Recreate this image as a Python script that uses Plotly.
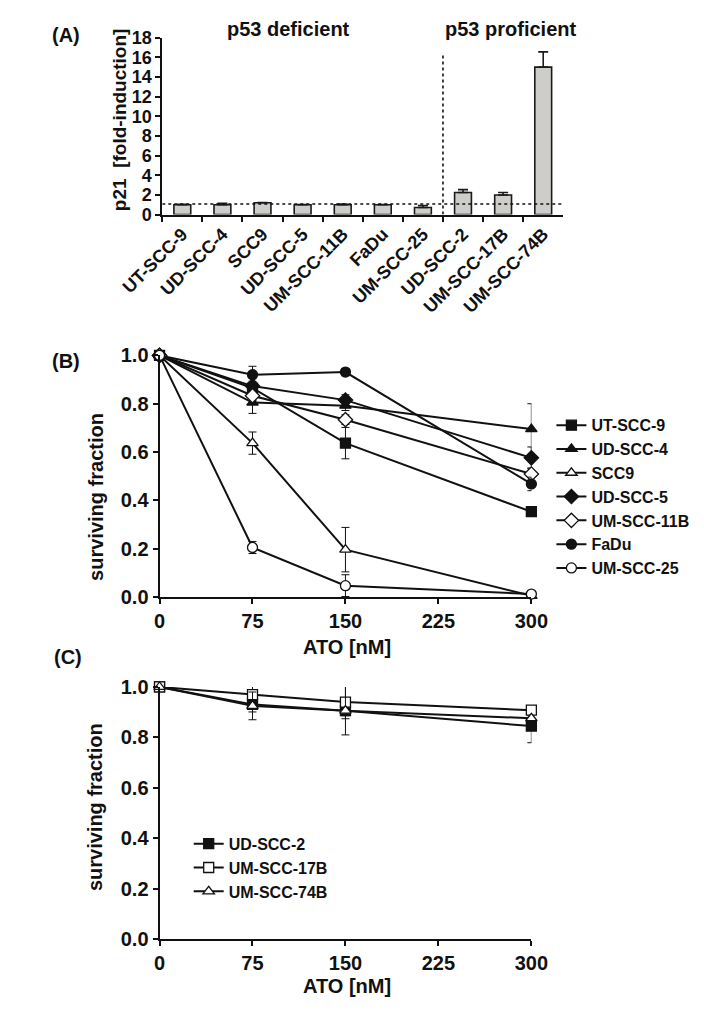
import plotly.graph_objects as go

# page is 704x1015; the browser body keeps an 8px margin, so the figure is 16px smaller
PAGE_W, PAGE_H, BODY = 704, 1015, 8
W, H = PAGE_W - 2 * BODY, PAGE_H - 2 * BODY

# ---------------- Panel A data ----------------
cell_lines_a = ["UT-SCC-9", "UD-SCC-4", "SCC9", "UD-SCC-5", "UM-SCC-11B", "FaDu",
                "UM-SCC-25", "UD-SCC-2", "UM-SCC-17B", "UM-SCC-74B"]
p21_fold = [1.0, 1.0, 1.2, 1.0, 1.0, 1.0, 0.72, 2.24, 2.0, 15.0]
p21_err = [0.05, 0.15, 0.03, 0.03, 0.06, 0.03, 0.2, 0.3, 0.24, 1.55]
baseline_fold = 1.08
group_split = 6.5

# ---------------- Panel B data ----------------
ato_dose = [0, 75, 150, 300]
b_names = ["UT-SCC-9", "UD-SCC-4", "SCC9", "UD-SCC-5", "UM-SCC-11B", "FaDu", "UM-SCC-25"]
b_ut_scc_9 = [1.0, 0.865, 0.637, 0.353]
b_ut_scc_9_err = [0.0, 0.02, 0.065, 0.015]
b_ud_scc_4 = [1.0, 0.805, 0.792, 0.695]
b_ud_scc_4_err = [0.0, 0.045, 0.02, 0.105]
b_scc9 = [1.0, 0.637, 0.196, 0.005]
b_scc9_err = [0.0, 0.046, 0.092, 0.01]
b_ud_scc_5 = [1.0, 0.873, 0.815, 0.576]
b_ud_scc_5_err = [0.0, 0.02, 0.022, 0.045]
b_um_scc_11b = [1.0, 0.833, 0.734, 0.509]
b_um_scc_11b_err = [0.0, 0.02, 0.02, 0.025]
b_fadu = [1.0, 0.92, 0.931, 0.468]
b_fadu_err = [0.0, 0.035, 0.015, 0.028]
b_um_scc_25 = [1.0, 0.205, 0.047, 0.012]
b_um_scc_25_err = [0.0, 0.025, 0.045, 0.005]

# ---------------- Panel C data ----------------
c_names = ["UD-SCC-2", "UM-SCC-17B", "UM-SCC-74B"]
c_ud_scc_2 = [1.0, 0.931, 0.906, 0.845]
c_ud_scc_2_err = [0.0, 0.03, 0.02, 0.066]
c_um_scc_17b = [1.0, 0.970, 0.940, 0.908]
c_um_scc_17b_err = [0.0, 0.035, 0.066, 0.01]
c_um_scc_74b = [1.0, 0.925, 0.906, 0.876]
c_um_scc_74b_err = [0.0, 0.055, 0.096, 0.01]

FONT = "Liberation Sans, Arial, sans-serif"


def px_x(px):
    return (px - BODY) / W


def px_y(py):
    return 1 - (py - BODY) / H


fig = go.Figure()

# Panel A bars
fig.add_trace(go.Bar(
    x=cell_lines_a, y=p21_fold, width=0.42,
    marker=dict(color="#cfcdca", line=dict(color="#1a1a1a", width=1.6)),
    error_y=dict(type="data", symmetric=False, array=p21_err, arrayminus=[0] * len(p21_err),
                 color="#1a1a1a", thickness=1.6, width=5),
    xaxis="x", yaxis="y", showlegend=False,
))


def add_line(xv, yv, err, name, symbol, filled, xa, ya, legend):
    fig.add_trace(go.Scatter(
        x=xv, y=yv, name=name, mode="lines+markers",
        line=dict(color="#111", width=2),
        marker=dict(symbol=symbol, size=10 if "diamond" not in symbol else 11,
                    color="#111" if filled else "white",
                    line=dict(color="#111", width=1.3)),
        error_y=dict(type="data", array=err, color="#111", thickness=1, width=4),
        xaxis=xa, yaxis=ya, legend=legend, cliponaxis=False,
    ))


b_series = [
    (b_ut_scc_9, b_ut_scc_9_err, "square", True),
    (b_ud_scc_4, b_ud_scc_4_err, "triangle-up", True),
    (b_scc9, b_scc9_err, "triangle-up", False),
    (b_ud_scc_5, b_ud_scc_5_err, "diamond", True),
    (b_um_scc_11b, b_um_scc_11b_err, "diamond", False),
    (b_fadu, b_fadu_err, "circle", True),
    (b_um_scc_25, b_um_scc_25_err, "circle", False),
]
for name, (yv, err, sym, filled) in zip(b_names, b_series):
    add_line(ato_dose, yv, err, name, sym, filled, "x2", "y2", "legend")

c_series = [
    (c_ud_scc_2, c_ud_scc_2_err, "square", True),
    (c_um_scc_17b, c_um_scc_17b_err, "square", False),
    (c_um_scc_74b, c_um_scc_74b_err, "triangle-up", False),
]
for name, (yv, err, sym, filled) in zip(c_names, c_series):
    add_line(ato_dose, yv, err, name, sym, filled, "x3", "y3", "legend2")

axis_common = dict(showline=True, linecolor="#111", linewidth=2, ticks="outside",
                   tickcolor="#111", tickwidth=2, ticklen=5, showgrid=False, zeroline=False,
                   color="#111")

fig.update_layout(
    width=W, height=H, margin=dict(l=0, r=0, t=0, b=0),
    paper_bgcolor="white", plot_bgcolor="white",
    font=dict(family=FONT, color="#111", weight="bold"),
    xaxis=dict(domain=[px_x(129), px_x(569)], anchor="y", range=[-0.5, 9.5],
               tickson="boundaries", tickangle=-45,
               tickfont=dict(size=18, family=FONT, weight="bold"), **axis_common),
    yaxis=dict(domain=[px_y(208), px_y(27)], anchor="x", range=[0, 18], dtick=2,
               tickfont=dict(size=18, family=FONT, weight="bold"), **axis_common),
    xaxis2=dict(domain=[px_x(126), px_x(534)], anchor="y2", range=[0, 300],
                tickvals=[0, 75, 150, 225, 300],
                tickfont=dict(size=20, family=FONT, weight="bold"), **axis_common),
    yaxis2=dict(domain=[px_y(599), px_y(352)], anchor="x2", range=[0, 1.0],
                tickvals=[0, 0.2, 0.4, 0.6, 0.8, 1.0], tickformat=".1f",
                tickfont=dict(size=20, family=FONT, weight="bold"), **axis_common),
    xaxis3=dict(domain=[px_x(126), px_x(534)], anchor="y3", range=[0, 300],
                tickvals=[0, 75, 150, 225, 300],
                tickfont=dict(size=20, family=FONT, weight="bold"), **axis_common),
    yaxis3=dict(domain=[px_y(949), px_y(691)], anchor="x3", range=[0, 1.0],
                tickvals=[0, 0.2, 0.4, 0.6, 0.8, 1.0], tickformat=".1f",
                tickfont=dict(size=20, family=FONT, weight="bold"), **axis_common),
    legend=dict(x=px_x(556), y=px_y(406), xanchor="left", yanchor="top",
                font=dict(size=16, family=FONT, weight="bold"), itemwidth=30,
                bgcolor="rgba(0,0,0,0)", tracegroupgap=0),
    legend2=dict(x=px_x(158), y=px_y(834), xanchor="left", yanchor="top",
                 font=dict(size=16, family=FONT, weight="bold"), itemwidth=30,
                 bgcolor="rgba(0,0,0,0)", tracegroupgap=0),
)

# dotted reference lines in panel A
fig.add_shape(type="line", xref="x", yref="y", x0=-0.5, x1=9.5, y0=baseline_fold, y1=baseline_fold,
              line=dict(color="#111", width=1.6, dash="dot"))
fig.add_shape(type="line", xref="x", yref="y", x0=group_split, x1=group_split, y0=0, y1=16.3,
              line=dict(color="#111", width=1.6, dash="dot"))

ann = []


def text(x, y, s, size=20, angle=0):
    ann.append(dict(x=px_x(x), y=px_y(y), xref="paper", yref="paper", text=s, showarrow=False,
                    textangle=angle, font=dict(size=size, family=FONT, weight="bold", color="#111"),
                    xanchor="center", yanchor="middle"))


text(23, 24, "(A)")
text(23, 358, "(B)")
text(26, 660, "(C)")
text(267, 18, "p53 deficient")
text(511, 18, "p53 proficient")
text(82, 111, "p21  [fold-induction]", size=19, angle=-90)
text(57, 497, "surviving fraction", size=20, angle=-90)
text(55, 814, "surviving fraction", size=20, angle=-90)
text(332, 650, "ATO [nM]")
text(332, 997, "ATO [nM]")
fig.update_layout(annotations=ann)

fig.write_html("out.html")
